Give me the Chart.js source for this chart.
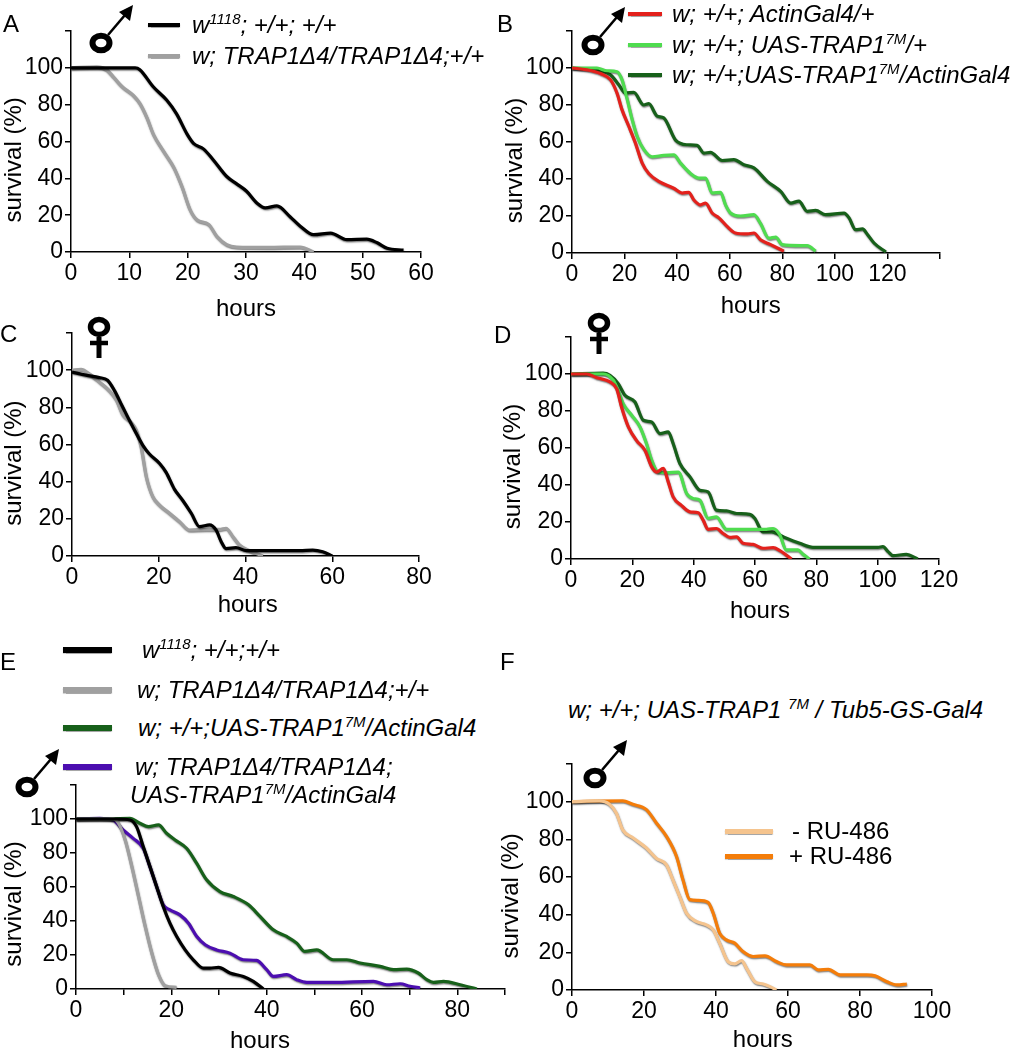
<!DOCTYPE html>
<html>
<head>
<meta charset="utf-8">
<script src="https://cdn.jsdelivr.net/npm/chart.js@4.4.1/dist/chart.umd.min.js"></script>
<style>
  body { margin: 0; background: #fff; width: 1011px; height: 1050px; position: relative; overflow: hidden;
         font-family: "Liberation Sans", Arial, Helvetica, sans-serif; color: #000; }
  canvas { position: absolute; }
  .abs { position: absolute; white-space: nowrap; }
  .letter { font-size: 24px; line-height: 28px; }
  .leg { font-size: 24px; line-height: 28px; font-style: italic; }
  .leg.plain { font-style: normal; }
  .sw { position: absolute; }
  sup { font-size: 15px; line-height: 0; vertical-align: 9px; }
</style>
</head>
<body>
<script>
// ---- data (hours, survival %) ----
// A: males, w1118 vs TRAP1 mutant
const A_w1118_h = [0, 8, 11, 11.8, 14.1, 16.4, 18.1, 19.9, 21, 22.7, 24.4, 26.7, 28.4, 30.1, 31.9, 33.3, 35.3, 37.6, 39.3, 41.6, 44.5, 47.3, 50.7, 52.5, 54.2, 57];
const A_w1118_s = [100, 100, 100, 99, 89.7, 82.5, 75, 64, 59, 56, 50, 41, 37, 33, 26.5, 24, 25, 19, 14, 9.4, 10.3, 6.7, 7, 5, 2, 1];
const A_trap_h = [0, 4.4, 6.1, 7.3, 8.7, 10.7, 11.8, 13, 14.1, 15.8, 17.6, 19, 20.4, 21.6, 23.6, 25, 26.7, 28.4, 33.6, 39.3, 41.6];
const A_trap_s = [100, 100.5, 99, 95, 90, 85, 80.7, 73, 64, 55, 46, 35.6, 23, 17.5, 15, 8.5, 4, 2.7, 2.5, 2.7, 0];

// B: males, overexpression
const B_act_h = [0, 5.7, 10.8, 14.6, 17.1, 19, 21.6, 24.1, 26.7, 29.2, 33, 38.7, 41.9, 44.4, 46.3, 48.9, 50.8, 53.3, 55.9, 59, 62.2, 66.7, 69.2, 71.7, 75.6, 80.6];
const B_act_s = [100, 99, 97, 93.7, 86.5, 77.5, 68.5, 59.5, 48.6, 43, 38.7, 35, 32.4, 32.8, 28.8, 26, 27, 21.6, 19, 14.4, 10.8, 10.3, 10.8, 7.2, 4.5, 1];
const B_uas_h = [0, 9.5, 13.3, 17.1, 19, 21, 22.9, 24.8, 27.3, 30.5, 34.9, 38.7, 41.3, 45.1, 48.3, 50.8, 53.3, 56.5, 58.4, 60.3, 64.1, 69.2, 71.7, 74.9, 77.5, 80, 87, 89.5, 92.7];
const B_uas_s = [100, 100, 98.5, 98, 93.7, 83, 72, 63, 56, 52, 52.8, 53, 48.6, 43, 40.5, 40.5, 32.4, 32.8, 26, 21.6, 20, 20.7, 16, 8, 8.6, 4.5, 4, 4, 1];
const B_both_h = [0, 10.8, 14.6, 17.8, 20.3, 23.5, 27.3, 29.2, 32.4, 34.9, 39.4, 43.8, 47.6, 50.2, 52.7, 57.1, 61.6, 65.4, 69.2, 74.3, 79.4, 83.2, 86.3, 89.5, 92.7, 96.5, 103.5, 105.4, 107.9, 110.5, 112.4, 114.9, 119.4];
const B_both_s = [100, 98.5, 96.4, 91, 86.5, 86.8, 80, 80.7, 74, 73, 61, 58.5, 58.2, 54, 54.4, 50, 50.5, 47.7, 46, 38.7, 33.3, 27, 28, 22.5, 23, 20.7, 21.6, 19, 12.6, 13, 10, 5.4, 0.5];

// C: females, w1118 vs TRAP1 mutant
const C_w1118_h = [0, 3.2, 6.3, 8.2, 9.8, 11.3, 12.8, 14.8, 16.3, 17.8, 20.2, 21.7, 23.6, 25.5, 27.5, 29.4, 31.7, 33.2, 34.4, 35.5, 37.8, 40.2, 44.8, 52.5, 55.5, 57.8, 60];
const C_w1118_s = [99, 97.3, 96, 94.6, 89, 82, 75, 66, 59.7, 55, 49.8, 45, 36, 30, 23, 15.8, 16.7, 14, 7.7, 4, 4.5, 2.9, 2.9, 2.9, 3.2, 2.3, 0];
const C_trap_h = [0, 2.1, 4, 6.3, 8.6, 10.2, 11.7, 13.6, 14.8, 15.9, 17.1, 18.6, 20.2, 22.5, 24.8, 27.1, 30.9, 34, 35.5, 37.1, 38.6, 40.9, 44];
const C_trap_s = [100, 100.4, 98, 93.7, 89, 84, 76, 72, 67.7, 58.8, 42.7, 32, 27.4, 23, 18.5, 14, 14.3, 14.3, 14.9, 10.4, 6, 2.9, 0];

// D: females, overexpression
const D_act_h = [0, 5.1, 8.4, 12.7, 14.9, 16.5, 18.7, 21.4, 24.1, 26.3, 27.9, 30.1, 31.7, 33.3, 36, 38.8, 41.5, 43.1, 44.7, 47.4, 49.6, 51.8, 54, 56.1, 59.4, 62.6, 65.9, 68.1, 71.9];
const D_act_s = [100, 100, 98, 95.7, 92, 82, 71.4, 64, 58.8, 49.8, 47, 49, 41.7, 33.6, 29, 25.5, 25, 21, 16, 16.5, 13.8, 11.7, 12, 8.5, 7.9, 5.8, 6.1, 4.5, 0];
const D_uas_h = [0, 10.5, 13.8, 15.4, 17, 19.8, 22.5, 24.6, 26.3, 28.4, 31.2, 35, 37.7, 39.8, 42, 44.7, 47.4, 50.7, 55, 63.7, 65.9, 68.1, 70.2, 74, 75.7, 77.8];
const D_uas_s = [100, 100, 96.6, 91, 84, 77.7, 71.4, 62.4, 53.4, 47, 46.6, 47, 35.4, 32.7, 31.8, 22, 22.8, 16, 16, 16, 16.5, 13, 4.9, 4.9, 2.5, 0];
const D_both_h = [0, 10.5, 12.7, 15.4, 17.6, 20.8, 23.6, 26.3, 29, 31.7, 33.3, 35.5, 38.8, 42, 44.7, 47.4, 50.7, 54, 58.3, 59.9, 62.6, 65.4, 69.2, 74.6, 78.9, 85.4, 100.1, 101.7, 103.4, 105, 109.3, 113.1];
const D_both_s = [100, 100.5, 99.3, 94.8, 88.5, 85, 75, 74, 67.8, 68.7, 62.4, 51.6, 44.4, 37.2, 36.3, 26.4, 26, 24.6, 24.1, 22, 14.7, 14.7, 12, 8.5, 6.3, 6.3, 6.3, 6.7, 4, 1.8, 2.5, 0];

// E: males, rescue
const E_w1118_h = [0, 8.5, 11.3, 12.7, 14.1, 15.5, 16.9, 18.3, 19.7, 21.1, 22.9, 24.6, 26.7, 28.1, 29.9, 32.3, 35.1, 37.2, 39.3];
const E_w1118_s = [100, 100, 99.4, 95.5, 83.8, 72, 60.3, 48.5, 38.7, 31, 23, 17.2, 12.3, 12.3, 12.7, 9.4, 7.4, 4.5, 0];
const E_trap_h = [0, 7.8, 8.9, 10.3, 11.7, 13.1, 14.5, 15.9, 17.3, 18.7, 21.1];
const E_trap_s = [100, 100, 97.5, 87.7, 72, 54.4, 36.8, 21, 8.4, 2, 1];
const E_over_h = [0, 7.1, 11.3, 13.4, 15.2, 17.3, 19, 20.8, 23.2, 25.3, 27.4, 30.2, 33, 36.2, 38.6, 41.4, 44.2, 46.3, 48, 50.5, 54, 56.8, 59.6, 63.8, 66.6, 69.4, 71.8, 73.6, 75, 77.1, 80.6, 84.1];
const E_over_s = [100, 100, 100.4, 97.5, 95.5, 96.5, 91.6, 87.7, 82.8, 74, 64.2, 57.3, 54.4, 49.5, 42.7, 34.8, 30.9, 27, 22.1, 23, 17.2, 17.2, 15.3, 13.3, 11.4, 11.7, 9.4, 5.5, 3.9, 4.5, 2.5, 0];
const E_rescue_h = [0, 5, 7.8, 9.9, 12, 14.1, 15.5, 16.9, 18.3, 19.7, 21.8, 23.6, 25.3, 27.1, 29.5, 32.3, 35.1, 37.9, 40, 41.4, 44.2, 46.3, 48.4, 54, 62.4, 65.2, 68, 70.1, 72.2];
const E_rescue_s = [100, 100.4, 99.4, 93.5, 88.6, 82.8, 72, 60.3, 49.5, 46.6, 43.6, 38.7, 31, 26, 23, 21.1, 17.2, 16.8, 11.4, 7.4, 8.4, 5.5, 3.9, 3.9, 4.5, 2.5, 3.1, 1.6, 0.6];

// F: males, Tub5-GS-Gal4 +/- RU-486
const F_minus_h = [0, 7.6, 10.4, 12.3, 14.1, 16.9, 20.6, 23.4, 26.2, 28, 29.9, 31.8, 34.5, 37.3, 39.2, 41, 43.4, 45.2, 47.1, 48.5, 50.8, 53.1, 55, 56.8];
const F_minus_s = [100, 100.4, 98.6, 94, 85, 80.8, 75.5, 70, 66.6, 58.6, 49.7, 40.8, 36.4, 34.6, 32, 24.9, 15, 13.9, 15.6, 11.5, 4.4, 3.2, 1.8, 0];
const F_plus_h = [0, 14.1, 16.9, 20.6, 23.4, 26.2, 29, 30.8, 32.7, 35, 37.8, 39.2, 41, 42.9, 45.2, 47.5, 50.3, 53.6, 56.8, 59.6, 66.1, 68.4, 71.2, 74.5, 81.9, 84.2, 87.5, 90.3, 93];
const F_plus_s = [100, 100.4, 98.6, 95.9, 88.8, 81.7, 71, 58.6, 48, 47.6, 46.5, 40.9, 30.2, 26.6, 24.9, 20.4, 17.8, 18.1, 15.1, 13.3, 13.3, 10.7, 11, 8, 8, 7.5, 4.4, 2.7, 3.2];

// legend texts
const legendA = ['w<sup>1118</sup>; +/+; +/+', 'w; TRAP1Δ4/TRAP1Δ4;+/+'];
const legendB = ['w; +/+; ActinGal4/+', 'w; +/+; UAS-TRAP1<sup>7M</sup>/+', 'w; +/+;UAS-TRAP1<sup>7M</sup>/ActinGal4'];
const legendE = ['w<sup>1118</sup>; +/+;+/+', 'w; TRAP1Δ4/TRAP1Δ4;+/+', 'w; +/+;UAS-TRAP1<sup>7M</sup>/ActinGal4',
                 'w; TRAP1Δ4/TRAP1Δ4;<br><span style="margin-left:-5px">UAS-TRAP1<sup>7M</sup>/ActinGal4</span>'];
const legendF = ['- RU-486', '+ RU-486'];
const titleF = 'w; +/+; UAS-TRAP1 <sup>7M</sup> / Tub5-GS-Gal4';

const BLACK = '#000000', GRAY = '#a0a0a0', RED = '#e3211c', LGREEN = '#4fdc4f',
      DGREEN = '#17601a', PURPLE = '#4c0eb0', LORANGE = '#f5c48e', ORANGE = '#f47d0a';
const FONT = '"Liberation Sans", Arial, Helvetica, sans-serif';
const PAD_L = 80, PAD_T = 20, PAD_R = 25, PAD_B = 70;

const panels = [
  { box: { l: 71, r: 421, t: 31, b: 252 }, xMax: 60, xStep: 10, xLabelStep: 10, xLabelMax: 60, xAt: 30, xDy: 64, yDx: 57,
    series: [[A_w1118_h, A_w1118_s, BLACK], [A_trap_h, A_trap_s, GRAY]] },
  { box: { l: 572, r: 940, t: 31, b: 253 }, xMax: 140, xStep: 20, xLabelStep: 20, xLabelMax: 120, xAt: 68, xDy: 60, yDx: 57,
    series: [[B_act_h, B_act_s, RED], [B_uas_h, B_uas_s, LGREEN], [B_both_h, B_both_s, DGREEN]] },
  { box: { l: 72, r: 419, t: 333, b: 556 }, xMax: 80, xStep: 20, xLabelStep: 20, xLabelMax: 80, xAt: 40.5, xDy: 56, yDx: 58,
    series: [[C_w1118_h, C_w1118_s, BLACK], [C_trap_h, C_trap_s, GRAY]] },
  { box: { l: 571, r: 939, t: 337, b: 559 }, xMax: 120, xStep: 20, xLabelStep: 20, xLabelMax: 120, xAt: 61.6, xDy: 59, yDx: 58,
    series: [[D_act_h, D_act_s, RED], [D_uas_h, D_uas_s, LGREEN], [D_both_h, D_both_s, DGREEN]] },
  { box: { l: 76, r: 505, t: 785, b: 989 }, xMax: 90, xStep: 10, xLabelStep: 20, xLabelMax: 80, xAt: 38.6, xDy: 59, yDx: 62,
    series: [[E_w1118_h, E_w1118_s, BLACK], [E_trap_h, E_trap_s, GRAY], [E_over_h, E_over_s, DGREEN], [E_rescue_h, E_rescue_s, PURPLE]] },
  { box: { l: 572, r: 932, t: 764, b: 990 }, xMax: 100, xStep: 20, xLabelStep: 20, xLabelMax: 100, xAt: 53, xDy: 57, yDx: 61,
    series: [[F_minus_h, F_minus_s, LORANGE], [F_plus_h, F_plus_s, ORANGE]] }
];

// soft grey halo under the curves + axis titles
const panelDecor = {
  id: 'panelDecor',
  beforeDatasetsDraw(chart) {
    const ctx = chart.ctx;
    ctx.save();
    ctx.shadowColor = 'rgba(0,0,0,0.5)';
    ctx.shadowBlur = 1.5;
    ctx.shadowOffsetX = 0.5;
    ctx.shadowOffsetY = 1.2;
  },
  afterDatasetsDraw(chart) {
    chart.ctx.restore();
  },
  afterDraw(chart, args, opts) {
    const { ctx, chartArea, scales: { x, y } } = chart;
    ctx.save();
    ctx.fillStyle = '#000';
    ctx.font = '24px ' + FONT;
    ctx.textAlign = 'center';
    ctx.textBaseline = 'alphabetic';
    ctx.fillText('hours', x.getPixelForValue(opts.xAt), chartArea.bottom + opts.xDy);
    ctx.translate(chartArea.left - opts.yDx, y.getPixelForValue(50));
    ctx.rotate(-Math.PI / 2);
    ctx.textBaseline = 'middle';
    ctx.fillText('survival (%)', 0, 0);
    ctx.restore();
  }
};

function makePanel(p) {
  const w = (p.box.r - p.box.l) + PAD_L + PAD_R;
  const h = (p.box.b - p.box.t) + PAD_T + PAD_B;
  const c = document.createElement('canvas');
  c.width = w; c.height = h;
  c.style.left = (p.box.l - PAD_L) + 'px';
  c.style.top = (p.box.t - PAD_T) + 'px';
  c.style.width = w + 'px'; c.style.height = h + 'px';
  document.body.appendChild(c);

  const tickFont = { size: 23, family: FONT };
  new Chart(c, {
    type: 'line',
    data: {
      datasets: p.series.map(([hrs, surv, color]) => ({
        data: hrs.map((v, i) => ({ x: v, y: surv[i] })),
        borderColor: color,
        borderWidth: 3.2,
        pointRadius: 0,
        fill: false,
        cubicInterpolationMode: 'monotone'
      }))
    },
    options: {
      responsive: false,
      animation: false,
      layout: { padding: { left: 0, top: PAD_T, right: PAD_R, bottom: 0 } },
      plugins: {
        legend: { display: false },
        tooltip: { enabled: false },
        panelDecor: { xAt: p.xAt, xDy: p.xDy, yDx: p.yDx }
      },
      scales: {
        x: {
          type: 'linear', min: 0, max: p.xMax,
          border: { color: '#000', width: 1.5 },
          grid: { drawOnChartArea: false, color: '#000', lineWidth: 1.5, tickLength: 6 },
          ticks: {
            stepSize: p.xStep, autoSkip: false, maxRotation: 0, padding: 2, color: '#000', font: tickFont,
            callback: v => (v <= p.xLabelMax && v % p.xLabelStep === 0) ? v : ''
          },
          afterFit: s => { s.height = PAD_B; }
        },
        y: {
          min: 0, max: 120,
          border: { color: '#000', width: 1.5 },
          grid: { drawOnChartArea: false, color: '#000', lineWidth: 1.5, tickLength: 6 },
          ticks: {
            stepSize: 20, padding: 2, color: '#000', font: tickFont,
            callback: v => v <= 100 ? v : ''
          },
          afterFit: s => { s.width = PAD_L; }
        }
      }
    },
    plugins: [panelDecor]
  });
}

panels.forEach(makePanel);

// ---- html text: panel letters, legends, sex symbols ----
function addText(html, x, y, cls) {
  const d = document.createElement('div');
  d.className = 'abs ' + cls;
  d.style.left = x + 'px';
  d.style.top = y + 'px';
  d.innerHTML = html;
  document.body.appendChild(d);
  return d;
}

function addSwatch(x, y, w, lw, color) {
  const s = document.createElement('div');
  s.className = 'sw';
  s.style.left = x + 'px';
  s.style.top = (y - lw / 2) + 'px';
  s.style.width = w + 'px';
  s.style.height = lw + 'px';
  s.style.background = color;
  s.style.boxShadow = '0 0.5px 1px rgba(0,0,0,0.35)';
  document.body.appendChild(s);
}

function addLegend(labels, colors, rows, sx, sw, lw, tx, cls) {
  labels.forEach((lab, i) => {
    addSwatch(sx, rows[i], sw, lw, colors[i]);
    addText(lab, tx[i], rows[i] - 14, cls);
  });
}

[['A', 3, 10], ['B', 497, 10], ['C', 0, 320], ['D', 494, 321], ['E', 0, 648], ['F', 500, 648]]
  .forEach(([t, x, y]) => addText(t, x, y, 'letter'));

addLegend(legendA, [BLACK, GRAY], [25, 56], 148, 32, 4, [192, 192], 'leg');
addLegend(legendB, [RED, LGREEN, DGREEN], [14, 45, 75], 628, 34, 4, [672, 672, 672], 'leg');
addLegend(legendE, [BLACK, GRAY, DGREEN, PURPLE], [650, 690, 728, 767], 63, 49, 6, [142, 137, 138, 135], 'leg');
addLegend(legendF, [LORANGE, ORANGE], [831, 856], 725, 48, 5, [792, 789], 'leg plain');
addText(titleF, 568, 696, 'leg');

const SVGNS = 'http://www.w3.org/2000/svg';
function svgAt(cx, cy, inner) {
  const s = document.createElementNS(SVGNS, 'svg');
  s.setAttribute('width', 80); s.setAttribute('height', 80);
  s.setAttribute('viewBox', '-40 -40 80 80');
  s.style.position = 'absolute';
  s.style.left = (cx - 40) + 'px';
  s.style.top = (cy - 40) + 'px';
  s.innerHTML = inner;
  document.body.appendChild(s);
}
function male(cx, cy) {
  svgAt(cx, cy,
    '<ellipse cx="0" cy="0" rx="8.5" ry="7.3" fill="none" stroke="#000" stroke-width="6"/>' +
    '<line x1="7" y1="-8" x2="24" y2="-28" stroke="#000" stroke-width="2.6"/>' +
    '<polygon points="32,-38 29,-22 18,-31" fill="#000"/>');
}
function female(cx, cy) {
  svgAt(cx, cy,
    '<ellipse cx="0" cy="0" rx="8.5" ry="7.5" fill="none" stroke="#000" stroke-width="5.5"/>' +
    '<line x1="0" y1="10" x2="0" y2="31" stroke="#000" stroke-width="5"/>' +
    '<line x1="-9" y1="16" x2="9" y2="16" stroke="#000" stroke-width="4.5"/>');
}
male(101, 43);
male(593, 45);
female(99, 327);
female(599, 323);
male(27, 787);
male(595, 778);
</script>
</body>
</html>
